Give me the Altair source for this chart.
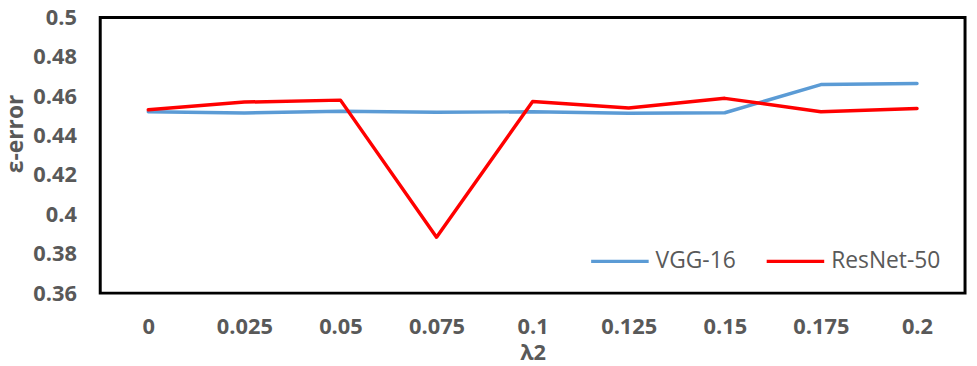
import altair as alt
import pandas as pd

lambdas = ["0", "0.025", "0.05", "0.075", "0.1", "0.125", "0.15", "0.175", "0.2"]
vgg16 = [0.4521, 0.4515, 0.4523, 0.4518, 0.4521, 0.4513, 0.4516, 0.4659, 0.4664]
resnet50 = [0.4531, 0.4570, 0.4580, 0.3884, 0.4573, 0.4540, 0.4589, 0.4521, 0.4538]
series_names = ["VGG-16", "ResNet-50"]
series_colors = ["#5B9BD5", "#FF0000"]
y_ticks = [0.36, 0.38, 0.40, 0.42, 0.44, 0.46, 0.48, 0.50]

rows = []
for name, vals in zip(series_names, [vgg16, resnet50]):
    for lam, v in zip(lambdas, vals):
        rows.append({"lambda": lam, "err": v, "series": name})
df = pd.DataFrame(rows)

grey = "#595959"
font = "Open Sans"

chart = (
    alt.Chart(df)
    .mark_line(strokeWidth=3.5, strokeJoin="round", strokeCap="round")
    .encode(
        x=alt.X(
            "lambda:N",
            sort=lambdas,
            scale=alt.Scale(type="point", padding=0.5),
            axis=alt.Axis(
                title="λ2",
                labelAngle=0,
                ticks=False,
                domain=False,
                labelPadding=24,
                labelFontSize=22,
                labelFontWeight="bold",
                labelColor=grey,
                labelFont=font,
                titleFontSize=22,
                titleFontWeight="bold",
                titleColor=grey,
                titleFont=font,
                titlePadding=5,
            ),
        ),
        y=alt.Y(
            "err:Q",
            scale=alt.Scale(domain=[0.36, 0.5], nice=False, zero=False),
            axis=alt.Axis(
                title="ε-error",
                values=y_ticks,
                labelExpr="format(datum.value, '.2~f')",
                grid=False,
                ticks=False,
                domain=False,
                labelPadding=24,
                labelFontSize=22,
                labelFontWeight="bold",
                labelColor=grey,
                labelFont=font,
                titleFontSize=23,
                titleFontWeight="bold",
                titleColor=grey,
                titleFont=font,
                titleX=-85,
                titleY=117,
                titleBaseline="middle",
                titleAlign="center",
                titleAngle=270,
            ),
        ),
        color=alt.Color(
            "series:N",
            sort=series_names,
            scale=alt.Scale(domain=series_names, range=series_colors),
            legend=alt.Legend(
                title=None,
                orient="none",
                legendX=493,
                legendY=215,
                direction="horizontal",
                symbolType="stroke",
                symbolSize=3364,
                symbolStrokeWidth=3.5,
                labelFontSize=23,
                labelColor=grey,
                labelFont=font,
                labelOffset=5,
                columnPadding=24,
            ),
        ),
    )
    .properties(
        width=872,
        height=278,
        autosize=alt.AutoSizeParams(type="none"),
        padding={"left": 93, "top": 8, "right": 4, "bottom": 72},
    )
    .configure(background="white")
    .configure_view(stroke="#000000", strokeWidth=3, strokeOpacity=1)
)

chart.save("out.html", embed_options={"renderer": "svg", "actions": False})
